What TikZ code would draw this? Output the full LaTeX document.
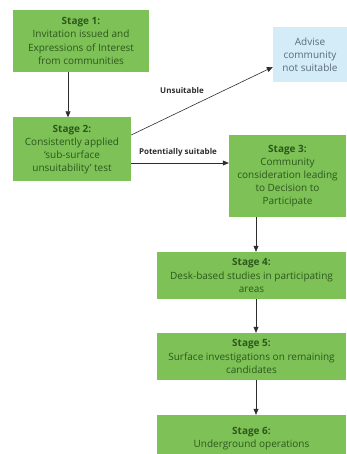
\documentclass[tikz,border=0pt]{standalone}
\usepackage{fontspec}
\setmainfont{Open Sans}
\usetikzlibrary{arrows.meta}
\definecolor{stagegreen}{RGB}{125,193,87}
\definecolor{stagetext}{RGB}{45,88,28}
\definecolor{advblue}{RGB}{212,236,247}
\definecolor{advtext}{RGB}{90,108,120}
\definecolor{linegray}{RGB}{45,45,45}
\begin{document}
\begin{tikzpicture}[x=1pt,y=-1pt,
  stagebox/.style={fill=stagegreen,draw=none,text=stagetext,align=center,
    inner sep=1pt,font=\fontsize{10}{13.2}\selectfont},
  advbox/.style={fill=advblue,draw=none,text=advtext,align=center,
    inner sep=1pt,font=\fontsize{10}{13.2}\selectfont},
  arr/.style={draw=linegray,line width=0.6pt,-{Triangle[length=6pt,width=5pt]}},
  lab/.style={font=\fontsize{8}{9}\selectfont\bfseries,text=linegray}]
\useasboundingbox (0,0) rectangle (346,454);
\node[stagebox,minimum width=136pt,minimum height=62pt] (s1) at (81,41)
  {\textbf{Stage 1:}\\Invitation issued and\\Expressions of Interest\\from communities};
\node[stagebox,minimum width=118pt,minimum height=64pt] (s2) at (72,149.5)
  {\textbf{Stage 2:}\\Consistently applied\\`sub-surface\\unsuitability' test};
\node[advbox,minimum width=74pt,minimum height=55pt] (adv) at (310,54.5)
  {Advise\\community\\not suitable};
\node[stagebox,minimum width=117pt,minimum height=82pt] (s3) at (287.5,176)
  {\textbf{Stage 3:}\\Community\\consideration leading\\to Decision to\\Participate};
\node[stagebox,minimum width=189pt,minimum height=47pt] (s4) at (251.5,275.5)
  {\textbf{Stage 4:}\\Desk-based studies in participating\\areas};
\node[stagebox,minimum width=189pt,minimum height=47pt] (s5) at (251.5,356.5)
  {\textbf{Stage 5:}\\Surface investigations on remaining\\candidates};
\node[stagebox,minimum width=189pt,minimum height=47pt] (s6) at (251.5,438.5)
  {\textbf{Stage 6:}\\Underground operations};
\draw[arr] ([xshift=-4pt]s2.north |- s1.south) -- ([xshift=-4pt]s2.north);
\draw[arr] ([yshift=14.5pt]s2.east) -- ([yshift=-12.5pt]adv.west);
\draw[arr] ([yshift=-13.5pt]s2.east) -- ([yshift=-13.5pt]s2.east -| s3.west);
\draw[arr] ([xshift=4.5pt]s4.north |- s3.south) -- ([xshift=4.5pt]s4.north);
\draw[arr] ([xshift=4.5pt]s5.north |- s4.south) -- ([xshift=4.5pt]s5.north);
\draw[arr] ([xshift=4.5pt]s6.north |- s5.south) -- ([xshift=4.5pt]s6.north);
\node[lab] (lu) at (182,91) {Unsuitable};
\node[lab] (lp) at (178,152.5) {Potentially suitable};
\end{tikzpicture}
\end{document}
